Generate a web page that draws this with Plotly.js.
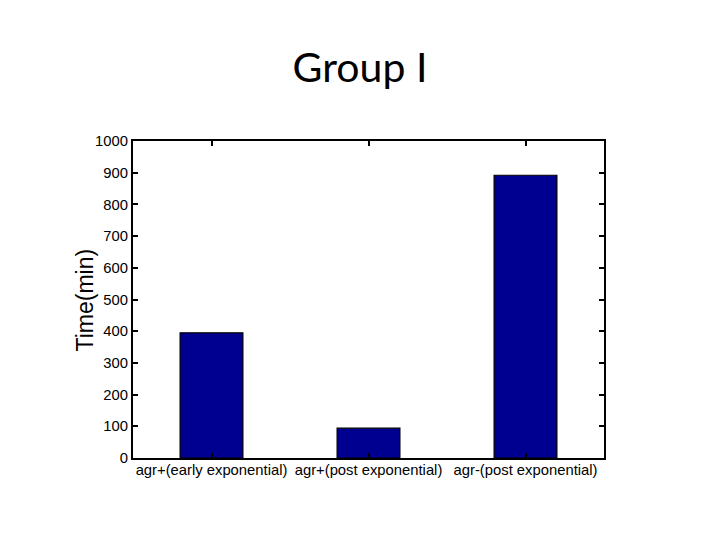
<!DOCTYPE html>
<html><head><meta charset="utf-8">
<script src="https://cdn.plot.ly/plotly-3.0.1.min.js"></script>
<style>body{margin:0;background:#fff}#c{width:720px;height:540px}</style>
</head><body><div id="c"></div>
<script>
const categories = ["agr+(early exponential)", "agr+(post exponential)", "agr-(post exponential)"];
const values = [395, 94, 892];
const yTicks = [0,100,200,300,400,500,600,700,800,900,1000];

const xs = categories.map((_, i) => i + 1);
Plotly.newPlot('c', [{
  type: 'bar', x: xs, y: values, width: 0.4,
  marker: {color: '#000090', line: {color: '#000000', width: 1.2}},
  hoverinfo: 'none'
}], {
  width: 720, height: 540,
  margin: {l: 133, r: 116, t: 141, b: 82},
  paper_bgcolor: '#fff', plot_bgcolor: '#fff',
  title: {text: 'Group I', x: 0.5, xanchor: 'center', y: 0.874, yanchor: 'middle',
          font: {family: 'Lato, "Open Sans", sans-serif', size: 41, color: '#000'}},
  showlegend: false,
  xaxis: {range: [0.5, 3.5], tickvals: xs, ticktext: categories,
          ticks: 'inside', ticklen: 5, tickwidth: 2, tickcolor: '#000',
          showline: true, linecolor: '#000', linewidth: 2, mirror: 'ticks',
          showgrid: false, zeroline: false, ticklabelstandoff: -3,
          tickfont: {family: '"Liberation Sans", Arial, sans-serif', size: 14.8, color: '#000'}},
  yaxis: {range: [0, 1000], tickvals: yTicks, ticktext: yTicks.map(String),
          ticks: 'inside', ticklen: 5, tickwidth: 2, tickcolor: '#000',
          showline: true, linecolor: '#000', linewidth: 2, mirror: 'ticks',
          showgrid: false, zeroline: false, ticklabelstandoff: 0,
          tickfont: {family: '"Liberation Sans", Arial, sans-serif', size: 14.8, color: '#000'}},
  annotations: [{text: 'Time(min)', textangle: -90, xref: 'paper', yref: 'paper',
                 x: -0.102, y: 0.5, xanchor: 'center', yanchor: 'middle', showarrow: false,
                 font: {family: '"Liberation Sans", Arial, sans-serif', size: 23, color: '#000'}}]
}, {staticPlot: true});
</script></body></html>
